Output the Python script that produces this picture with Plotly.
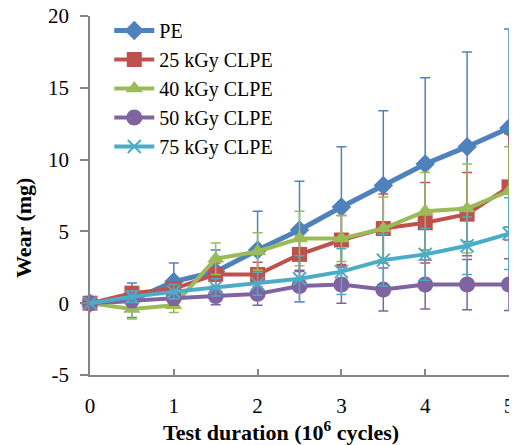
import plotly.graph_objects as go

x_vals = [0, 0.5, 1, 1.5, 2, 2.5, 3, 3.5, 4, 4.5, 5]
series_names = ["PE", "25 kGy CLPE", "40 kGy CLPE", "50 kGy CLPE", "75 kGy CLPE"]
pe = [0, 0.2, 1.5, 2.2, 3.7, 5.1, 6.7, 8.2, 9.7, 10.9, 12.2]
pe_err = [0, 1.2, 1.3, 1.5, 2.7, 3.4, 4.2, 5.2, 6.0, 6.6, 6.9]
kgy25 = [0, 0.7, 1.0, 2.0, 2.0, 3.4, 4.4, 5.2, 5.6, 6.2, 8.1]
kgy25_err = [0, 0.4, 0.5, 0.8, 0.85, 1.2, 1.7, 2.4, 2.8, 2.9, 3.7]
kgy40 = [0, -0.4, -0.15, 3.1, 3.6, 4.5, 4.5, 5.2, 6.4, 6.6, 7.8]
kgy40_err = [0, 0.7, 0.5, 1.1, 1.3, 1.9, 1.6, 2.2, 2.7, 3.1, 3.1]
kgy50 = [0, 0.2, 0.35, 0.5, 0.65, 1.2, 1.3, 0.95, 1.3, 1.3, 1.3]
kgy50_err = [0, 0.5, 0.5, 0.6, 0.8, 1.1, 1.3, 1.5, 1.7, 1.75, 1.8]
kgy75 = [0, 0.45, 0.8, 1.1, 1.35, 1.7, 2.2, 3.0, 3.4, 4.0, 4.85]
kgy75_err = [0, 0.4, 0.5, 0.6, 0.8, 1.6, 1.6, 1.8, 1.8, 2.0, 2.5]

y_ticks = [-5, 0, 5, 10, 15, 20]
y_ticktext = ["-5", "0", "5", "10", "15", "20"]
x_ticks = [0, 1, 2, 3, 4, 5]

colors = ["#4F81BD", "#C0504D", "#9BBB59", "#8064A2", "#4BACC6"]
symbols = ["diamond", "square", "triangle-up", "circle", "x-thin-open"]
widths = [5, 4, 4, 4, 4]
sizes = [15, 15, 15, 16, 13]

data = [(pe, pe_err), (kgy25, kgy25_err), (kgy40, kgy40_err), (kgy50, kgy50_err), (kgy75, kgy75_err)]

FONT = "Times New Roman"

# page body has an 8px margin; figure is sized so the plot lands where the reference has it
W, H = 509, 437
L, R, T, B = 82, 8, 8, 70

fig = go.Figure()
for i, (ys, errs) in enumerate(data):
    marker = dict(symbol=symbols[i], size=sizes[i], color=colors[i])
    if symbols[i] == "x-thin-open":
        marker["line"] = dict(color=colors[i], width=2)
    fig.add_trace(go.Scatter(
        x=x_vals, y=ys, name=series_names[i], mode="lines+markers",
        line=dict(color=colors[i], width=widths[i]),
        marker=marker,
        error_y=dict(type="data", array=errs, visible=True, color=colors[i], thickness=1.5, width=5),
        cliponaxis=False,
    ))

axis_color = "#868686"
fig.update_layout(
    width=W, height=H,
    margin=dict(l=L, r=R, t=T, b=B, autoexpand=False),
    plot_bgcolor="white", paper_bgcolor="white",
    font=dict(family=FONT, size=21, color="black"),
    showlegend=True,
    legend=dict(x=0.046, y=1.014, xanchor="left", yanchor="top", bgcolor="rgba(0,0,0,0)",
                font=dict(family=FONT, size=20), itemwidth=40, tracegroupgap=0),
    xaxis=dict(range=[0, 5], tickvals=x_ticks, ticks="inside", ticklen=6, tickcolor=axis_color,
               tickwidth=1.5, showline=True, linecolor=axis_color, linewidth=1.5, showgrid=False,
               zeroline=False, ticklabelstandoff=11, automargin=False, ticklabeloverflow="allow",
               tickfont=dict(family=FONT, size=21)),
    yaxis=dict(range=[-5, 20], tickvals=y_ticks, ticktext=y_ticktext, ticks="outside", ticklen=8,
               tickcolor=axis_color, tickwidth=1.5, showline=True, linecolor=axis_color, linewidth=1.5,
               showgrid=False, zeroline=False, ticklabelstandoff=7, automargin=False,
               ticklabeloverflow="allow", tickfont=dict(family=FONT, size=21)),
)
pw, ph = W - L - R, H - T - B
def px(xs): return (xs - 8 - L) / pw
def py(ys): return (H - B - (ys - 8)) / ph

fig.add_annotation(text="<b>Test duration (10<sup>6</sup> cycles)</b>", x=px(281), xref="paper",
                   y=py(431), yref="paper", showarrow=False, font=dict(family=FONT, size=22),
                   xanchor="center", yanchor="middle")
fig.add_annotation(text="<b>Wear (mg)</b>", textangle=-90, x=px(23), xref="paper",
                   y=py(228), yref="paper", showarrow=False, font=dict(family=FONT, size=22),
                   xanchor="center", yanchor="middle")

fig.write_html("out.html")
